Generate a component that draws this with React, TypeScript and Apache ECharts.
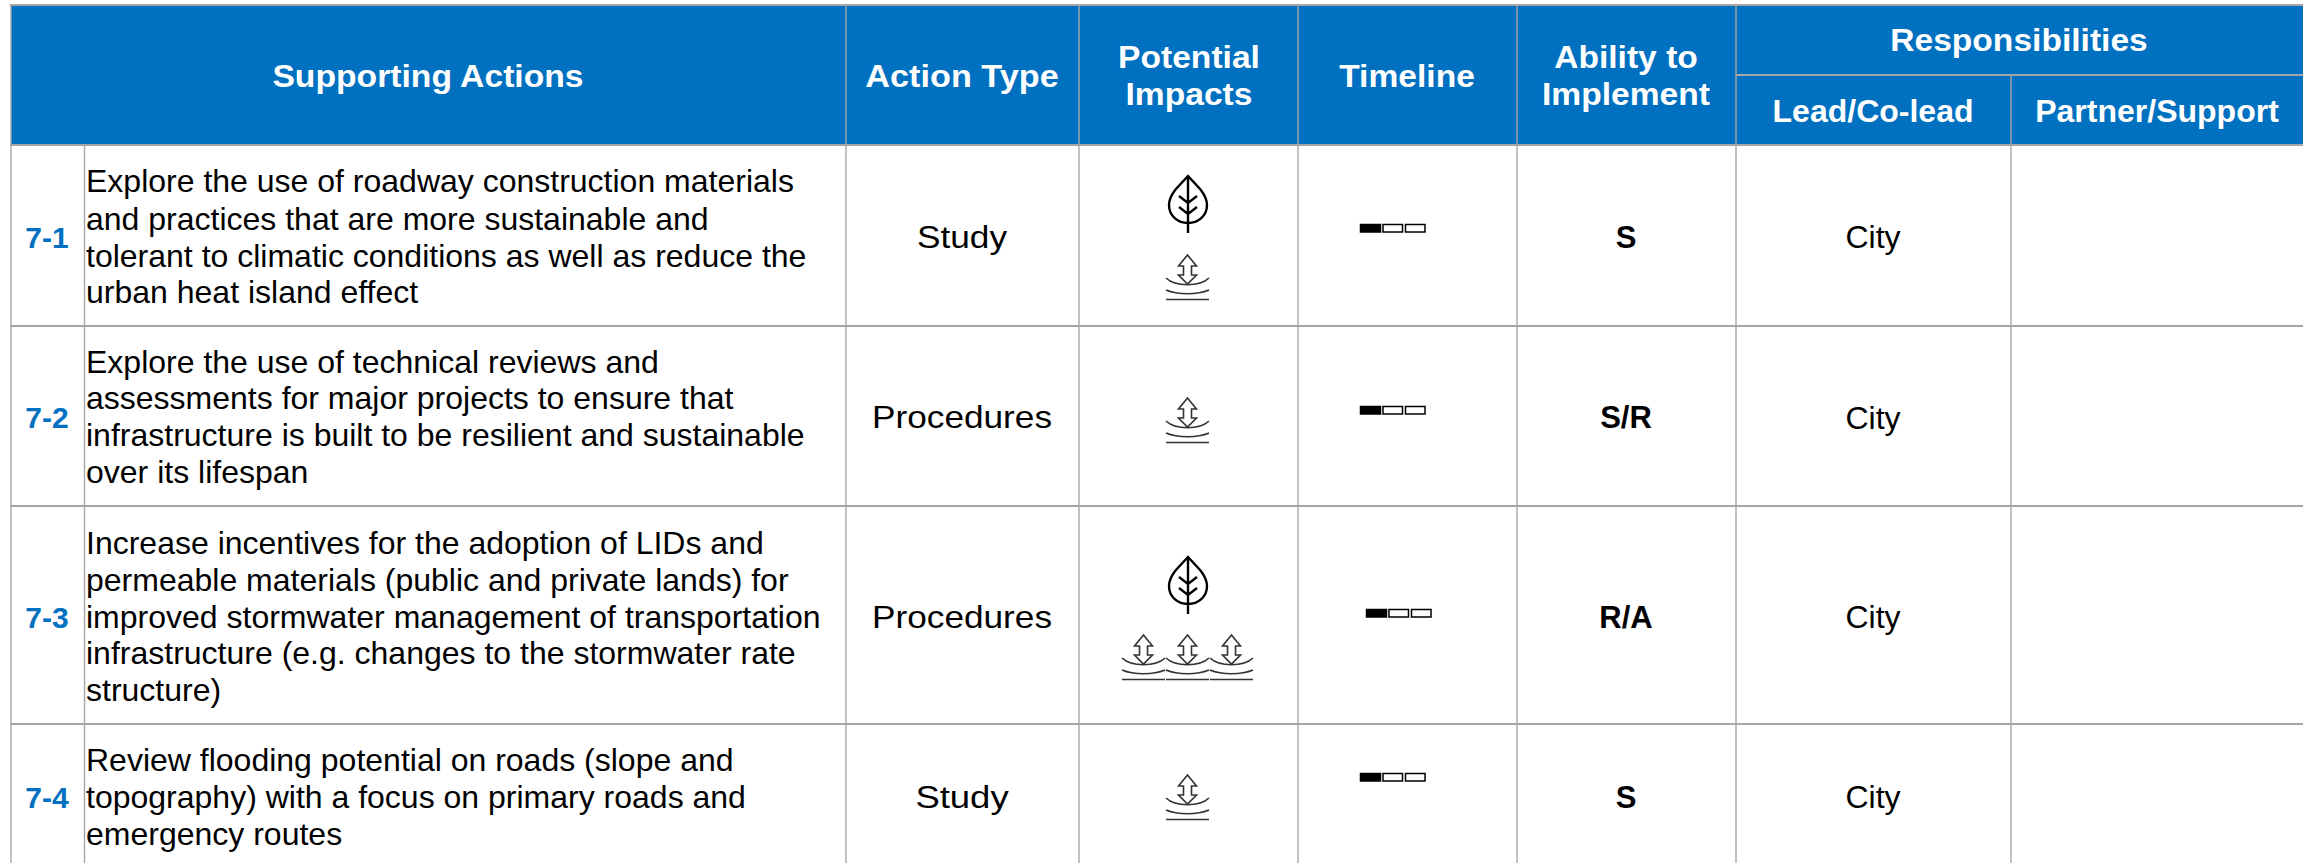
import React, { useEffect, useRef } from "react";
import * as echarts from "echarts";

const actionIds = ["7-1", "7-2", "7-3", "7-4"];
const actionLines = [
  ["Explore the use of roadway construction materials", "and practices that are more sustainable and", "tolerant to climatic conditions as well as reduce the", "urban heat island effect"],
  ["Explore the use of technical reviews and", "assessments for major projects to ensure that", "infrastructure is built to be resilient and sustainable", "over its lifespan"],
  ["Increase incentives for the adoption of LIDs and", "permeable materials (public and private lands) for", "improved stormwater management of transportation", "infrastructure (e.g. changes to the stormwater rate", "structure)"],
  ["Review flooding potential on roads (slope and", "topography) with a focus on primary roads and", "emergency routes"],
];
const actionTypes = ["Study", "Procedures", "Procedures", "Study"];
const abilities = ["S", "S/R", "R/A", "S"];
const leads = ["City", "City", "City", "City"];
const partners = ["", "", "", ""];
const leafCounts = [1, 0, 1, 0];
const waterCounts = [1, 1, 3, 1];

const LEAF = "M0 0L-12.5 13.5C-16 18-19 23-19 29C-19 40-10 47 0 47C10 47 19 40 19 29C19 23 16 18 12.5 13.5ZM0 0L0 57M-9 20L0 27L9 20M-9 31L0 38L9 31";
const WATER = "M0 0L9 11L4 11L4 20L9 20L0 29L-9 20L-4 20L-4 11L-9 11ZM-21.5 23C-12 32 12 32 21.5 23M-21.5 35C-10 40 10 40 21.5 35M-21.5 44.5L21.5 44.5";
echarts.graphic.registerShape("leaf", echarts.graphic.extendPath(LEAF, {}));
echarts.graphic.registerShape("water", echarts.graphic.extendPath(WATER, {}));

const BLUE = "#0070C0";
const GRID = "#A6A6A6";
const FONT = "'Liberation Sans', Arial, sans-serif";
const colX = [11, 84.5, 846, 1079, 1298, 1517, 1736, 2011, 2303];
const rowY = [5, 145, 326, 506, 724, 863];
const bodyLineY = [[181, 219, 256, 292], [362, 398, 435, 472], [543, 580, 617, 653, 690], [760, 797, 834]];
const rowCenterY = [237, 417.5, 617, 797];
const typeScale = [1.1, 1.1, 1.1, 1.14];
const leafY = [176, 0, 557, 0];
const waterY = [255, 398, 635, 775];
const timelineBox = [[1360, 224], [1360, 406], [1366, 609], [1360, 773]];

function txt(text: string, x: number, y: number, size: number, opts: any = {}) {
  return {
    type: "text", x, y, scaleX: opts.scaleX ?? 1, z: 5,
    style: {
      text, x: 0, y: 0, fontFamily: FONT, fontSize: size, fontWeight: opts.weight ?? "normal",
      fill: opts.fill ?? "#000", align: opts.align ?? "center", verticalAlign: "middle",
    },
  };
}
function ln(x1: number, y1: number, x2: number, y2: number, w: number) {
  return { type: "line", z: 4, shape: { x1, y1, x2, y2 }, style: { stroke: GRID, lineWidth: w } };
}

function buildElements() {
  const els: any[] = [];
  els.push({ type: "rect", z: 1, shape: { x: colX[0], y: rowY[0], width: colX[8] - colX[0], height: rowY[1] - rowY[0] }, style: { fill: BLUE } });
  rowY.slice(0, 5).forEach((y) => els.push(ln(colX[0] - 1, y, colX[8], y, 2.2)));
  els.push(ln(colX[6], 75, colX[8], 75, 2.2));
  [0, 2, 3, 4, 5, 6].forEach((i) => els.push(ln(colX[i], rowY[0], colX[i], rowY[5], 1.4)));
  els.push(ln(colX[1], rowY[1], colX[1], rowY[5], 1.4));
  els.push(ln(colX[7], 75, colX[7], rowY[5], 1.4));

  const h = (scaleX: number) => ({ weight: "bold", fill: "#fff", scaleX });
  els.push(txt("Supporting Actions", 428, 76, 32, h(1.053)));
  els.push(txt("Action Type", 962, 76, 32, h(1.07)));
  els.push(txt("Potential", 1189, 57, 32, h(1.05)));
  els.push(txt("Impacts", 1189, 94, 32, h(1.05)));
  els.push(txt("Timeline", 1407, 76, 32, h(1.05)));
  els.push(txt("Ability to", 1626, 57, 32, h(1.05)));
  els.push(txt("Implement", 1626, 94, 32, h(1.05)));
  els.push(txt("Responsibilities", 2019, 40, 32, h(1.05)));
  els.push(txt("Lead/Co-lead", 1873, 111, 32, h(1)));
  els.push(txt("Partner/Support", 2157, 111, 32, h(1)));

  actionIds.forEach((id, r) => {
    const cy = rowCenterY[r];
    els.push(txt(id, 47, cy, 30, { weight: "bold", fill: BLUE }));
    actionLines[r].forEach((line, i) => els.push(txt(line, 86, bodyLineY[r][i], 32, { align: "left" })));
    els.push(txt(actionTypes[r], 962, cy, 32, { scaleX: typeScale[r] }));
    els.push(txt(abilities[r], 1626, cy, 31, { weight: "bold" }));
    els.push(txt(leads[r], 1873, cy, 32));
    if (partners[r]) els.push(txt(partners[r], 2157, cy, 32));

    for (let i = 0; i < leafCounts[r]; i++) {
      els.push({ type: "leaf", x: 1188, y: leafY[r], z: 5, style: { fill: "none", stroke: "#000", lineWidth: 2.4 } });
    }
    const n = waterCounts[r];
    for (let i = 0; i < n; i++) {
      const cx = 1187.5 + (i - (n - 1) / 2) * 44;
      els.push({ type: "water", x: cx, y: waterY[r], z: 5, style: { fill: "none", stroke: "#333", lineWidth: 1.6 } });
    }
    const [tx, ty] = timelineBox[r];
    [0, 1, 2].forEach((i) => {
      els.push({
        type: "rect", z: 5,
        shape: { x: tx + i * 22.5 + 0.5, y: ty + 0.5, width: i === 0 ? 20 : 19.5, height: 7.5 },
        style: { fill: i === 0 ? "#000" : "#fff", stroke: "#000", lineWidth: 1.5 },
      });
    });
  });
  return els;
}

export default function App() {
  const ref = useRef<HTMLDivElement>(null);
  useEffect(() => {
    document.body.style.margin = "0";
    const chart = echarts.init(ref.current!, null, { renderer: "svg" });
    chart.setOption({ animation: false, backgroundColor: "#fff", graphic: { elements: buildElements() } });
    return () => chart.dispose();
  }, []);
  return <div ref={ref} style={{ position: "fixed", left: 0, top: 0, width: 2315, height: 863 }} />;
}
